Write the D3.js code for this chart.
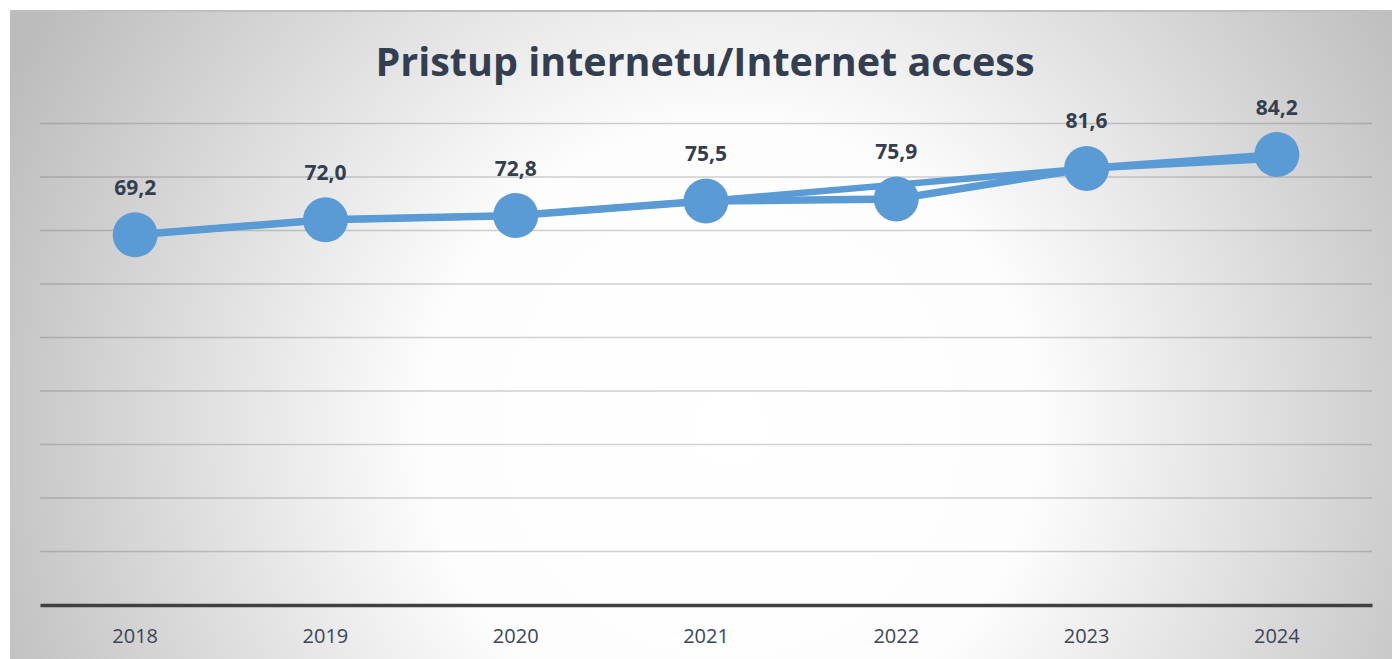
<!DOCTYPE html>
<html>
<head>
<meta charset="utf-8">
<script src="https://cdn.jsdelivr.net/npm/d3@7"></script>
<style>
  body { margin: 0; background: #fff; }
  svg { display: block; }
</style>
</head>
<body>
<div id="chart"></div>
<script>
var svgWidth = 1392;
var svgHeight = 659;

// data
var years = ["2018", "2019", "2020", "2021", "2022", "2023", "2024"];
var access = [69.2, 72.0, 72.8, 75.5, 75.9, 81.6, 84.2];
// faint second line underneath (no markers, skips 2022)
var accessOld = [69.2, 72.0, 72.8, 75.5, null, 81.6, 83.4];
var yTicks = [0, 10, 20, 30, 40, 50, 60, 70, 80, 90];

var margin = { top: 70, right: 20, bottom: 54, left: 40 };
var chartWidth = 1372 - margin.left;
var chartHeight = svgHeight - margin.top - margin.bottom;

var svg = d3.select("#chart")
  .append("svg")
  .attr("width", svgWidth)
  .attr("height", svgHeight);

// background gradient
var defs = svg.append("defs");
var grad = defs.append("radialGradient")
  .attr("id", "bg")
  .attr("gradientUnits", "userSpaceOnUse")
  .attr("cx", 730).attr("cy", 430).attr("r", 800);
grad.append("stop").attr("offset", "0%").attr("stop-color", "#ffffff");
grad.append("stop").attr("offset", "38%").attr("stop-color", "#fdfdfd");
grad.append("stop").attr("offset", "100%").attr("stop-color", "#bcbcbc");

svg.append("rect")
  .attr("x", 10).attr("y", 10)
  .attr("width", svgWidth - 10).attr("height", svgHeight - 10)
  .attr("fill", "url(#bg)");
svg.append("line")
  .attr("x1", 10).attr("x2", svgWidth)
  .attr("y1", 11).attr("y2", 11)
  .attr("stroke", "#bfbfbf").attr("stroke-width", 2);

var chartGroup = svg.append("g")
  .attr("transform", `translate(${margin.left}, ${margin.top})`);

var xScale = d3.scaleBand()
  .domain(years)
  .range([0, chartWidth]);

var yScale = d3.scaleLinear()
  .domain([0, 100])
  .range([chartHeight, 0]);

// gridlines
chartGroup.append("g")
  .selectAll("line")
  .data(yTicks.slice(1))
  .enter()
  .append("line")
  .attr("x1", 0).attr("x2", chartWidth)
  .attr("y1", d => yScale(d)).attr("y2", d => yScale(d))
  .attr("stroke", "rgba(90,90,90,0.28)")
  .attr("stroke-width", 1.5);

// x axis
var bottomAxis = d3.axisBottom(xScale).tickSize(0).tickPadding(24);
var xAxis = chartGroup.append("g")
  .attr("transform", `translate(0, ${chartHeight})`)
  .call(bottomAxis);
xAxis.select(".domain").attr("stroke", "#404040").attr("stroke-width", 3.5);
xAxis.selectAll("text")
  .attr("font-family", "Open Sans, sans-serif")
  .attr("font-size", 20)
  .attr("fill", "#3b4658");

var cx = d => xScale(d) + xScale.bandwidth() / 2;

var line = d3.line()
  .defined(d => d[1] != null)
  .x(d => cx(d[0]))
  .y(d => yScale(d[1]));

var oldPts = years.map((y, i) => [y, accessOld[i]]).filter(d => d[1] != null);
chartGroup.append("path")
  .datum(oldPts)
  .attr("d", line)
  .attr("fill", "none")
  .attr("stroke", "#5b9bd5")
  .attr("stroke-width", 6.5);

var pts = years.map((y, i) => [y, access[i]]);
chartGroup.append("path")
  .datum(pts)
  .attr("d", line)
  .attr("fill", "none")
  .attr("stroke", "#5b9bd5")
  .attr("stroke-width", 7.5);

chartGroup.selectAll("circle")
  .data(pts)
  .enter()
  .append("circle")
  .attr("cx", d => cx(d[0]))
  .attr("cy", d => yScale(d[1]))
  .attr("r", 22.5)
  .attr("fill", "#5b9bd5");

chartGroup.selectAll(".lbl")
  .data(pts)
  .enter()
  .append("text")
  .attr("class", "lbl")
  .attr("x", d => cx(d[0]))
  .attr("y", d => yScale(d[1]) - 40)
  .attr("text-anchor", "middle")
  .attr("font-family", "Open Sans, sans-serif")
  .attr("font-weight", "bold")
  .attr("font-size", 21)
  .attr("fill", "#333f50")
  .text(d => d[1].toFixed(1).replace(".", ","));

svg.append("text")
  .attr("x", 705)
  .attr("y", 76)
  .attr("text-anchor", "middle")
  .attr("font-family", "Open Sans, sans-serif")
  .attr("font-weight", "bold")
  .attr("font-size", 39.5)
  .attr("fill", "#333f50")
  .text("Pristup internetu/Internet access");
</script>
</body>
</html>
